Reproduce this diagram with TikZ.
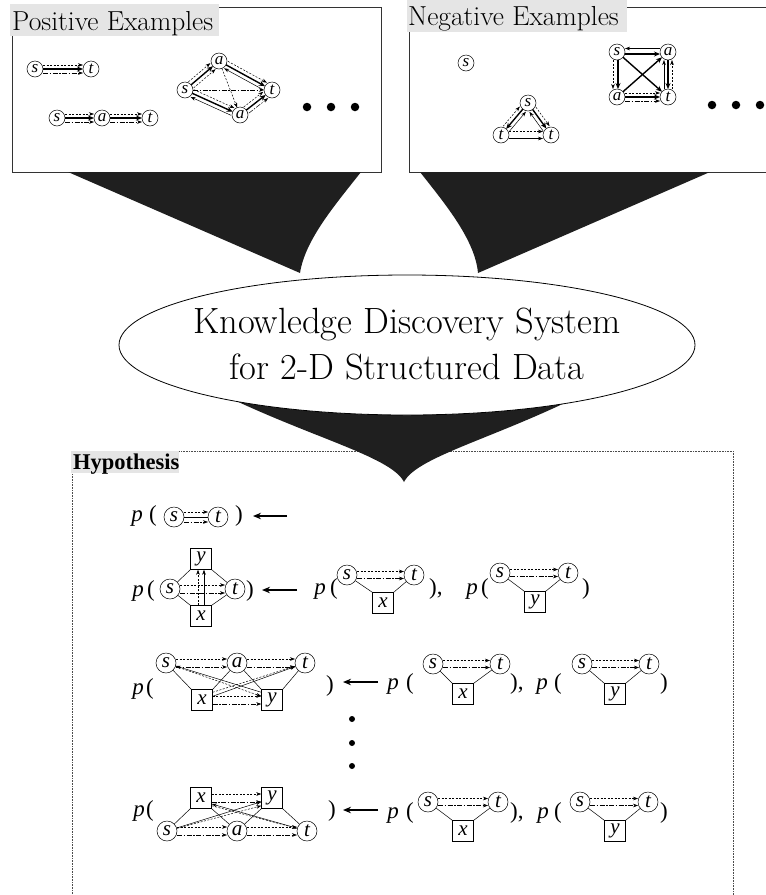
\documentclass[tikz,border=0pt]{standalone}
\usepackage{fontspec}
\newfontfamily\tms{Liberation Serif}
\usetikzlibrary{calc,arrows.meta}
\newcommand{\ed}[4]{\draw[#1] ($(#2)!#4!90:(#3)$) -- ($(#3)!#4!-90:(#2)$);}
\tikzset{
 bx/.style={line width=0.8pt, draw=black!80},
 lbg/.style={fill=black!10},
 fnl/.style={fill=black!88},
 ln/.style={line width=0.5pt, draw=black},
 cn/.style={circle, draw, line width=0.5pt, minimum size=16pt, inner sep=0pt, fill=white, font=\tms\itshape\fontsize{17}{17}\selectfont},
 hc/.style={circle, draw, line width=0.5pt, minimum size=20pt, inner sep=0pt, font=\tms\itshape\fontsize{21}{21}\selectfont},
 hb/.style={rectangle, draw, line width=0.5pt, minimum size=21pt, inner sep=0pt, font=\tms\itshape\fontsize{21}{21}\selectfont},
 thk/.style={line width=1.4pt, -{Stealth[length=6pt,width=5pt]}},
 thn/.style={line width=0.5pt, -{Stealth[length=5pt,width=3.6pt]}},
 dsh/.style={thn, dash pattern=on 2pt off 1.5pt},
 dd/.style={thn, dash pattern=on 5pt off 1.5pt on 1.5pt off 1.5pt},
 ex/.style={shorten <=8pt, shorten >=8pt},
 hx/.style={shorten <=10pt, shorten >=10pt},
 ht/.style={font=\tms\fontsize{23}{23}\selectfont, inner sep=0pt, anchor=base},
 harr/.style={line width=1.3pt, -{Stealth[length=8pt,width=6.5pt]}},
 dot/.style={circle, fill=black, inner sep=0pt, minimum size=8.5pt},
 vdot/.style={circle, fill=black, inner sep=0pt, minimum size=6pt},
 hbox/.style={line width=0.6pt, draw=black!70, dash pattern=on 0.8pt off 0.8pt},
}
\newcommand{\smallg}[5]{%
 \node[hc] (#1s) at (#2) {s}; \node[hc] (#1t) at (#3) {t}; \node[hb] (#1b) at (#4) {#5};
 \draw[ln] (#1s) -- (#1b.north west); \draw[ln] (#1b.north east) -- (#1t);
 \ed{dsh,hx}{#1s}{#1t}{3.5pt} \ed{dd,hx}{#1s}{#1t}{-3.5pt}}
\begin{document}
\begin{tikzpicture}[x=1pt,y=-1pt]
\useasboundingbox (0,0) rectangle (766,895);
% ---------- top boxes
\draw[bx] (12,7) rectangle (381,172);
\fill[lbg] (10,4) rectangle (219,36);
\node[font=\fontsize{27.5}{27.5}\selectfont, inner sep=0pt, anchor=base west] (poslab) at (12,30) {Positive Examples};
\draw[bx] (409,7) rectangle (775,172);
\fill[lbg] (407,0) rectangle (627,32);
\node[font=\fontsize{27.5}{27.5}\selectfont, inner sep=0pt, anchor=base west] (neglab) at (408,25) {Negative Examples};
% ---------- hypothesis box
\draw[hbox] (72,910) -- (72,451) -- (733,451) -- (733,910);
\fill[lbg] (71,451) rectangle (179,473);
\node[font=\tms\bfseries\fontsize{22.5}{22.5}\selectfont, inner sep=0pt, anchor=base west] (hyplab) at (73,469) {Hypothesis};
% ---------- funnels
\fill[fnl] (68,172) -- (300,273) .. controls (305,240) and (335,205) .. (361,172) -- cycle;
\fill[fnl] (710,172) -- (478,273) .. controls (475,240) and (446,205) .. (420,172) -- cycle;
\fill[fnl] (234,400) .. controls (320,440) and (392,458) .. (404,482) .. controls (416,458) and (488,440) .. (571,400) -- cycle;
% ---------- ellipse
\draw[fill=white, line width=0.8pt] (407,345) ellipse [x radius=288pt, y radius=70pt];
\node[font=\fontsize{36.5}{36.5}\selectfont, inner sep=0pt, anchor=base] (kd1) at (407,333) {Knowledge Discovery System};
\node[font=\fontsize{36.5}{36.5}\selectfont, inner sep=0pt, anchor=base] (kd2) at (407,379) {for 2-D Structured Data};
% ---------- positive examples
\node[cn] (p1s) at (35,69) {s}; \node[cn] (p1t) at (91,69) {t};
\ed{dsh,ex}{p1s}{p1t}{4pt} \ed{thk,ex}{p1s}{p1t}{0pt} \ed{dd,ex}{p1s}{p1t}{-4pt}
\node[cn] (p2s) at (57,118) {s}; \node[cn] (p2a) at (102,118) {a}; \node[cn] (p2t) at (150,118) {t};
\ed{dsh,ex}{p2s}{p2a}{4pt} \ed{thk,ex}{p2s}{p2a}{0pt} \ed{dd,ex}{p2s}{p2a}{-4pt}
\ed{dsh,ex}{p2a}{p2t}{4pt} \ed{thk,ex}{p2a}{p2t}{0pt} \ed{dd,ex}{p2a}{p2t}{-4pt}
\node[cn] (p3s) at (185,90) {s}; \node[cn] (p3a) at (219,61) {a}; \node[cn] (p3t) at (272,90) {t}; \node[cn] (p3b) at (240,115) {a};
\ed{dsh,ex}{p3s}{p3a}{4pt} \ed{thk,ex}{p3s}{p3a}{0pt} \ed{dsh,ex}{p3s}{p3a}{-4pt}
\ed{dsh,ex}{p3a}{p3t}{4pt} \ed{thk,ex}{p3a}{p3t}{0pt} \ed{thn,ex}{p3t}{p3a}{4pt}
\ed{dsh,ex}{p3s}{p3b}{4pt} \ed{thk,ex}{p3s}{p3b}{0pt} \ed{thn,ex}{p3b}{p3s}{4pt}
\ed{dsh,ex}{p3b}{p3t}{4pt} \ed{thk,ex}{p3b}{p3t}{0pt} \ed{dd,ex}{p3b}{p3t}{-4pt}
\ed{dd,ex}{p3s}{p3t}{0pt}
\ed{dsh,ex}{p3a}{p3b}{0pt}
\node[dot] (pd1) at (307,107) {}; \node[dot] (pd2) at (331,107) {}; \node[dot] (pd3) at (355,107) {};
% ---------- negative examples
\node[cn] (n0s) at (466,63) {s};
\node[cn] (n1s) at (528,103) {s}; \node[cn] (n1l) at (501,135) {t}; \node[cn] (n1r) at (551,135) {t};
\ed{dsh,ex}{n1l}{n1s}{4pt} \ed{thk,ex}{n1s}{n1l}{0pt} \ed{thn,ex}{n1l}{n1s}{-4pt}
\ed{dsh,ex}{n1s}{n1r}{4pt} \ed{thk,ex}{n1s}{n1r}{0pt} \ed{thn,ex}{n1r}{n1s}{4pt}
\ed{dsh,ex}{n1l}{n1r}{3.5pt} \ed{thn,ex}{n1l}{n1r}{-3.5pt}
\node[cn] (n2s) at (617,52) {s}; \node[cn] (n2a) at (668,52) {a}; \node[cn] (n2b) at (617,97) {a}; \node[cn] (n2t) at (668,97) {t};
\ed{thn,ex}{n2a}{n2s}{-3.5pt} \ed{thk,ex}{n2s}{n2a}{-2pt}
\ed{dsh,ex}{n2s}{n2b}{-4pt} \ed{thk,ex}{n2s}{n2b}{1pt}
\ed{thk,ex}{n2a}{n2t}{0pt} \ed{thn,ex}{n2t}{n2a}{4pt} \ed{dsh,ex}{n2t}{n2a}{-4pt}
\ed{dsh,ex}{n2b}{n2t}{4pt} \ed{thk,ex}{n2b}{n2t}{0pt} \ed{dd,ex}{n2b}{n2t}{-4pt}
\ed{thk,ex}{n2s}{n2t}{0pt} \ed{thk,ex}{n2b}{n2a}{0pt}
\node[dot] (nd1) at (712,105) {}; \node[dot] (nd2) at (736,105) {}; \node[dot] (nd3) at (760,105) {};
% ---------- hypothesis row 1
\node[ht] (h1p) at (137,521) {\itshape p}; \node[ht] (h1o) at (153,521) {(};
\node[hc] (h1s) at (174,517) {s}; \node[hc] (h1t) at (218,517) {t};
\node[ht] (h1c) at (239,521) {)};
\ed{dsh,hx}{h1s}{h1t}{5pt} \ed{ln,hx}{h1s}{h1t}{0pt} \ed{dd,hx}{h1s}{h1t}{-5pt}
\coordinate (h1a) at (287,516); \coordinate (h1b) at (253,516);
\draw[harr] (h1a) -- (h1b);
% ---------- row 2
\node[ht] (h2p) at (138,596) {\itshape p}; \node[ht] (h2o) at (151,596) {(};
\node[hc] (h2s) at (170,589) {s}; \node[hc] (h2t) at (235,589) {t};
\node[hb] (h2y) at (201,559) {y}; \node[hb] (h2x) at (201,616) {x};
\node[ht] (h2c) at (250,596) {)};
\draw[ln] (h2s) -- (h2y.south west); \draw[ln] (h2y.south east) -- (h2t);
\draw[ln] (h2s) -- (h2x.north west); \draw[ln] (h2x.north east) -- (h2t);
\ed{dsh,hx}{h2s}{h2t}{4pt} \ed{dd,hx}{h2s}{h2t}{-4pt}
\draw[dsh] ([xshift=-3pt]h2x.north) -- ([xshift=-3pt]h2y.south);
\draw[thn] ([xshift=3pt]h2x.north) -- ([xshift=3pt]h2y.south);
\coordinate (h2a) at (297,590); \coordinate (h2b) at (262,590);
\draw[harr] (h2a) -- (h2b);
\node[ht] (h2p2) at (320,594) {\itshape p}; \node[ht] (h2o2) at (334,594) {(};
\smallg{h2A}{347,575}{414,575}{383,603}{x}
\node[ht, anchor=base west] (h2c2) at (429,594) {),};
\node[ht] (h2p3) at (472,594) {\itshape p}; \node[ht] (h2o3) at (485,594) {(};
\smallg{h2B}{500,573}{568,573}{535,602}{y}
\node[ht] (h2c3) at (586,594) {)};
% ---------- row 3
\node[ht] (h3p) at (138,694) {\itshape p}; \node[ht] (h3o) at (150,694) {(};
\node[hc] (h3s) at (166,663) {s}; \node[hc] (h3a) at (237,663) {a}; \node[hc] (h3t) at (305,663) {t};
\node[hb] (h3x) at (202,700) {x}; \node[hb] (h3y) at (272,700) {y};
\node[ht] (h3c) at (330,691) {)};
\ed{dsh,hx}{h3s}{h3a}{4pt} \ed{dd,hx}{h3s}{h3a}{-4pt}
\ed{dsh,hx}{h3a}{h3t}{4pt} \ed{dd,hx}{h3a}{h3t}{-4pt}
\draw[dsh] ([yshift=4pt]h3x.east) -- ([yshift=4pt]h3y.west);
\draw[dd] ([yshift=-4pt]h3x.east) -- ([yshift=-4pt]h3y.west);
\draw[ln] (h3s) -- (h3x.north west); \draw[ln] (h3a) -- (h3x.north east);
\draw[ln] (h3a) -- (h3y.north west); \draw[ln] (h3t) -- (h3y.north east);
\draw[thn] ([yshift=-3pt]h3y.north west) -- (h3s);
\draw[dsh] (h3s) -- ([yshift=-7pt]h3y.north west);
\draw[dsh] ([yshift=-3pt]h3x.north east) -- (h3t);
\draw[thn] ([yshift=-7pt]h3x.north east) -- (h3t);
\coordinate (h3a1) at (378,682); \coordinate (h3b1) at (343,682);
\draw[harr] (h3a1) -- (h3b1);
\node[ht] (h3p2) at (393,689) {\itshape p}; \node[ht] (h3o2) at (410,689) {(};
\smallg{h3A}{433,664}{500,664}{463,694}{x}
\node[ht, anchor=base west] (h3c2) at (510,689) {),};
\node[ht] (h3p3) at (542,689) {\itshape p}; \node[ht] (h3o3) at (558,689) {(};
\smallg{h3B}{582,664}{649,664}{615,694}{y}
\node[ht] (h3c3) at (664,689) {)};
% ---------- vertical dots
\node[vdot] (vd1) at (352,719) {}; \node[vdot] (vd2) at (352,743) {}; \node[vdot] (vd3) at (352,766) {};
% ---------- row 4
\node[ht] (h4p) at (139,816) {\itshape p}; \node[ht] (h4o) at (150,816) {(};
\node[hb] (h4x) at (201,798) {x}; \node[hb] (h4y) at (272,798) {y};
\node[hc] (h4s) at (167,831) {s}; \node[hc] (h4a) at (237,831) {a}; \node[hc] (h4t) at (307,831) {t};
\node[ht] (h4c) at (332,816) {)};
\draw[dsh] ([yshift=4pt]h4x.east) -- ([yshift=4pt]h4y.west);
\draw[dd] ([yshift=-4pt]h4x.east) -- ([yshift=-4pt]h4y.west);
\ed{dsh,hx}{h4s}{h4a}{4pt} \ed{dd,hx}{h4s}{h4a}{-4pt}
\ed{dsh,hx}{h4a}{h4t}{4pt} \ed{dd,hx}{h4a}{h4t}{-4pt}
\draw[ln] (h4x.south west) -- (h4s); \draw[ln] (h4x.south east) -- (h4a);
\draw[ln] (h4y.south west) -- (h4a); \draw[ln] (h4y.south east) -- (h4t);
\draw[dsh] (h4s) -- ([yshift=3pt]h4y.south west);
\draw[thn] (h4s) -- ([yshift=7pt]h4y.south west);
\draw[thn] (h4t) -- ([yshift=-6pt]h4x.east);
\draw[dsh] ([yshift=3pt]h4x.south east) -- (h4t);
\coordinate (h4a1) at (378,810); \coordinate (h4b1) at (343,810);
\draw[harr] (h4a1) -- (h4b1);
\node[ht] (h4p2) at (393,818) {\itshape p}; \node[ht] (h4o2) at (410,818) {(};
\smallg{h4A}{428,802}{498,802}{463,831}{x}
\node[ht, anchor=base west] (h4c2) at (510,818) {),};
\node[ht] (h4p3) at (543,818) {\itshape p}; \node[ht] (h4o3) at (558,818) {(};
\smallg{h4B}{580,802}{648,802}{615,831}{y}
\node[ht] (h4c3) at (664,818) {)};
\end{tikzpicture}
\end{document}
